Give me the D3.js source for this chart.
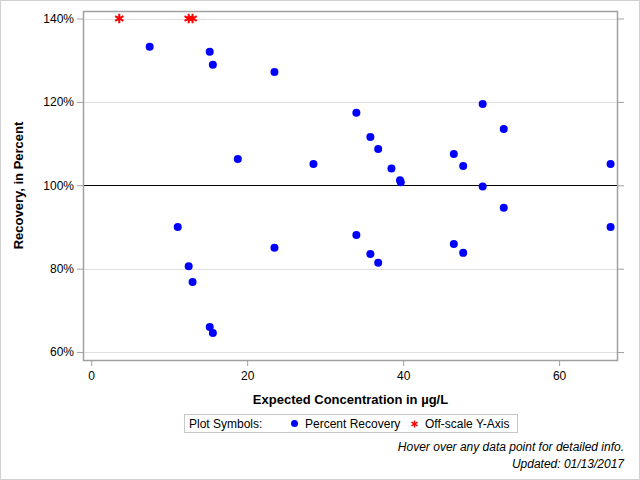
<!DOCTYPE html>
<html>
<head>
<meta charset="utf-8">
<script src="https://cdn.jsdelivr.net/npm/d3@7"></script>
<style>
  body { margin: 0; background: #fff; }
  svg { font-family: Arial, "Liberation Sans", sans-serif; }
</style>
</head>
<body>
<svg id="chart" width="640" height="480"></svg>
<script>
// percent recovery points (concentration in ug/L, recovery %)
const concValues = [7.5, 15.2, 15.6, 23.5, 18.8, 28.5, 34.0, 35.8, 36.8, 38.5, 39.6, 39.7,
  46.5, 47.7, 50.2, 50.2, 52.9, 66.6,
  11.1, 12.5, 13.0, 15.2, 15.6, 23.5, 34.0, 35.8, 36.8, 46.5, 47.7, 52.9, 66.6];
const recoveryValues = [133.2, 132.0, 128.9, 127.2, 106.3, 105.1, 117.4, 111.6, 108.7, 104.0, 101.2, 100.7,
  107.5, 104.6, 119.5, 99.7, 113.5, 105.1,
  90.0, 80.6, 76.8, 66.0, 64.6, 85.0, 88.1, 83.5, 81.4, 85.9, 83.8, 94.6, 90.0];

// off-scale points, plotted at the top of the axis
const offConc = [3.6, 12.5, 13.0];
const offRecovery = [140, 140, 140];

const yTicks = [60, 80, 100, 120, 140];
const xTicks = [0, 20, 40, 60];

const svg = d3.select("#chart");
const W = 640, H = 480;
const margin = { left: 83, top: 11, right: 22, bottom: 120 };

// outer border
svg.append("rect")
  .attr("x", 0.5).attr("y", 0.5)
  .attr("width", W - 1).attr("height", H - 1)
  .attr("fill", "none").attr("stroke", "#d0d0d0");

const x = d3.scaleLinear().domain([-1.05, 67.55]).range([margin.left, W - margin.right]);
const y = d3.scaleLinear().domain([58.1, 141.8]).range([H - margin.bottom, margin.top]);

// gridlines
svg.append("g").selectAll("line")
  .data(yTicks)
  .join("line")
  .attr("x1", x.range()[0]).attr("x2", x.range()[1])
  .attr("y1", d => Math.round(y(d)) + 0.5).attr("y2", d => Math.round(y(d)) + 0.5)
  .attr("stroke", d => d === 100 ? "#000" : "#e0e0e0");

// axes
const axisColor = "#a0a0a0";
const yAxis = svg.append("g")
  .attr("transform", `translate(${margin.left},0)`)
  .call(d3.axisLeft(y).tickValues(yTicks).tickSize(6).tickPadding(3).tickFormat(d => d + "%"));
const yAxisR = svg.append("g")
  .attr("transform", `translate(${W - margin.right},0)`)
  .call(d3.axisRight(y).tickValues(yTicks).tickSize(6).tickFormat(""));
const xAxis = svg.append("g")
  .attr("transform", `translate(0,${H - margin.bottom})`)
  .call(d3.axisBottom(x).tickValues(xTicks).tickSize(6).tickPadding(5));

[yAxis, yAxisR, xAxis].forEach(g => {
  g.selectAll(".domain").remove();
  g.selectAll("line").attr("stroke", axisColor);
  g.selectAll("text").attr("fill", "#000").style("font-size", "12px")
    .style("font-family", "Arial, 'Liberation Sans', sans-serif");
});

// plot frame
svg.append("rect")
  .attr("x", margin.left + 0.5).attr("y", margin.top + 0.5)
  .attr("width", x.range()[1] - margin.left - 1)
  .attr("height", H - margin.bottom - margin.top)
  .attr("fill", "none").attr("stroke", axisColor).attr("stroke-width", 1.5);

// points
const pts = concValues.map((c, i) => ({ c: c, r: recoveryValues[i] }));
svg.append("g").selectAll("circle")
  .data(pts)
  .join("circle")
  .attr("cx", d => x(d.c))
  .attr("cy", d => y(d.r))
  .attr("r", 4)
  .attr("fill", "#0000ff");

const offPts = offConc.map((c, i) => ({ c: c, r: offRecovery[i] }));
const star = d3.symbol().type(d3.symbolAsterisk).size(64);
svg.append("g").selectAll("path")
  .data(offPts)
  .join("path")
  .attr("transform", d => `translate(${x(d.c)},${y(d.r)})`)
  .attr("d", star)
  .attr("fill", "none")
  .attr("stroke", "#ff0000")
  .attr("stroke-width", 2);

// axis titles
svg.append("text")
  .attr("x", (margin.left + x.range()[1]) / 2)
  .attr("y", 404)
  .attr("text-anchor", "middle")
  .style("font-size", "13px").style("font-weight", "bold")
  .text("Expected Concentration in µg/L");

svg.append("text")
  .attr("transform", `translate(23,${(margin.top + H - margin.bottom) / 2}) rotate(-90)`)
  .attr("text-anchor", "middle")
  .style("font-size", "13px").style("font-weight", "bold")
  .text("Recovery, in Percent");

// legend
const lg = svg.append("g");
lg.append("rect")
  .attr("x", 184.5).attr("y", 414.5)
  .attr("width", 333).attr("height", 18)
  .attr("fill", "#fff").attr("stroke", "#c8c8c8");
lg.append("text").attr("x", 189).attr("y", 428).style("font-size", "12px").text("Plot Symbols:");
lg.append("circle").attr("cx", 294.5).attr("cy", 423.5).attr("r", 3.5).attr("fill", "#0000ff");
lg.append("text").attr("x", 305).attr("y", 428).style("font-size", "12px").text("Percent Recovery");
lg.append("path")
  .attr("transform", "translate(414.5,424)")
  .attr("d", d3.symbol().type(d3.symbolAsterisk).size(36)())
  .attr("fill", "none").attr("stroke", "#ff0000").attr("stroke-width", 1.4);
lg.append("text").attr("x", 425).attr("y", 428).style("font-size", "12px").text("Off-scale Y-Axis");

// footnotes
svg.append("text")
  .attr("x", 624).attr("y", 451)
  .attr("text-anchor", "end")
  .style("font-size", "12px").style("font-style", "italic")
  .text("Hover over any data point for detailed info.");
svg.append("text")
  .attr("x", 624).attr("y", 468)
  .attr("text-anchor", "end")
  .style("font-size", "12px").style("font-style", "italic")
  .text("Updated: 01/13/2017");
</script>
</body>
</html>
